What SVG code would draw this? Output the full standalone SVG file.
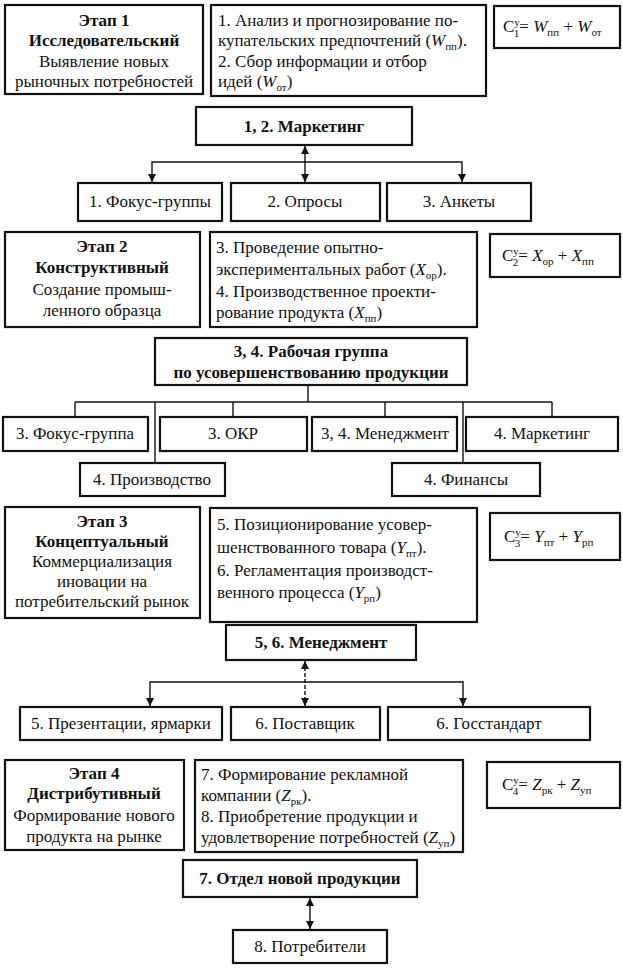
<svg xmlns="http://www.w3.org/2000/svg" width="623" height="969" viewBox="0 0 623 969" font-family="Liberation Serif" font-size="17">
<style>
text{fill:#111}
.b{font-weight:bold}
.c{text-anchor:middle}
.box{fill:#fff;stroke:#111;stroke-width:2.2}
.ln{fill:none;stroke:#111;stroke-width:1.4}
.i{font-style:italic}
.s{font-size:11px}
</style>
<defs>
<marker id="ah" viewBox="0 0 10 10" refX="10" refY="5" markerWidth="8" markerHeight="8" orient="auto-start-reverse" markerUnits="userSpaceOnUse">
<path d="M0,0 L10,5 L0,10 Z" fill="#111"/>
</marker>
</defs>
<rect width="623" height="969" fill="#fff"/>

<g id="connectors">
<line class="ln" x1="305" y1="146" x2="305" y2="182" marker-start="url(#ah)" marker-end="url(#ah)"/>
<polyline class="ln" points="152,182 152,162 462,162 462,182" marker-start="url(#ah)" marker-end="url(#ah)"/>
<line class="ln" x1="308" y1="386" x2="308" y2="402"/>
<line class="ln" x1="75" y1="402" x2="552" y2="402"/>
<line class="ln" x1="75" y1="402" x2="75" y2="417"/>
<line class="ln" x1="233" y1="402" x2="233" y2="417"/>
<line class="ln" x1="385" y1="402" x2="385" y2="417"/>
<line class="ln" x1="552" y1="402" x2="552" y2="417"/>
<line class="ln" x1="155" y1="402" x2="155" y2="463"/>
<line class="ln" x1="463" y1="402" x2="463" y2="463"/>
<line class="ln" x1="305" y1="661" x2="305" y2="706" stroke-dasharray="4 2" marker-start="url(#ah)" marker-end="url(#ah)"/>
<polyline class="ln" points="150,706 150,682 463,682 463,706" marker-start="url(#ah)" marker-end="url(#ah)"/>
<line class="ln" x1="310" y1="898" x2="310" y2="929" marker-start="url(#ah)" marker-end="url(#ah)"/>
</g>

<g id="stage1">
<rect class="box" x="5" y="5" width="198" height="89"/>
<text class="b c" x="104" y="26">Этап 1</text>
<text class="b c" x="104" y="46">Исследовательский</text>
<text class="c" x="104" y="67">Выявление новых</text>
<text class="c" x="104" y="87">рыночных потребностей</text>
</g>
<g id="tasks1">
<rect class="box" x="211" y="5" width="275" height="91"/>
<text x="218" y="26">1. Анализ и прогнозирование по-</text>
<text x="218" y="46">купательских предпочтений (<tspan class="i">W</tspan><tspan class="s" dy="4">пп</tspan><tspan dy="-4">).</tspan></text>
<text x="218" y="67">2. Сбор информации и отбор</text>
<text x="218" y="87">идей (<tspan class="i">W</tspan><tspan class="s" dy="4">от</tspan><tspan dy="-4">)</tspan></text>
</g>
<g id="formula1">
<rect class="box" x="494" y="6" width="126" height="42"/>
<text x="503" y="32">C<tspan class="s" dy="-6">у</tspan><tspan class="s" dx="-6" dy="11">1</tspan><tspan dy="-5">= </tspan><tspan class="i">W</tspan><tspan class="s" dy="4">пп</tspan><tspan dy="-4"> + </tspan><tspan class="i">W</tspan><tspan class="s" dy="4">от</tspan></text>
</g>
<g id="marketing12">
<rect class="box" x="196" y="107" width="216" height="38"/>
<text class="b c" x="304" y="132">1, 2. Маркетинг</text>
</g>
<g id="focus1">
<rect class="box" x="78" y="183" width="144" height="38"/>
<text class="c" x="150" y="207">1. Фокус-группы</text>
</g>
<g id="polls">
<rect class="box" x="231" y="183" width="149" height="38"/>
<text class="c" x="305" y="207">2. Опросы</text>
</g>
<g id="questionnaires">
<rect class="box" x="387" y="183" width="144" height="38"/>
<text class="c" x="459" y="207">3. Анкеты</text>
</g>

<g id="stage2">
<rect class="box" x="5" y="232" width="195" height="95"/>
<text class="b c" x="102" y="252">Этап 2</text>
<text class="b c" x="102" y="273">Конструктивный</text>
<text class="c" x="102" y="295">Создание промыш-</text>
<text class="c" x="102" y="316">ленного образца</text>
</g>
<g id="tasks2">
<rect class="box" x="210" y="232" width="267" height="95"/>
<text x="216" y="253">3. Проведение опытно-</text>
<text x="216" y="275">экспериментальных работ (<tspan class="i">X</tspan><tspan class="s" dy="4">ор</tspan><tspan dy="-4">).</tspan></text>
<text x="216" y="297">4. Производственное проекти-</text>
<text x="216" y="318">рование продукта (<tspan class="i">X</tspan><tspan class="s" dy="4">пп</tspan><tspan dy="-4">)</tspan></text>
</g>
<g id="formula2">
<rect class="box" x="490" y="234" width="130" height="43"/>
<text x="502" y="261">C<tspan class="s" dy="-6">у</tspan><tspan class="s" dx="-6" dy="11">2</tspan><tspan dy="-5">= </tspan><tspan class="i">X</tspan><tspan class="s" dy="4">ор</tspan><tspan dy="-4"> + </tspan><tspan class="i">X</tspan><tspan class="s" dy="4">пп</tspan></text>
</g>
<g id="workgroup">
<rect class="box" x="155" y="338" width="312" height="47"/>
<text class="b c" x="311" y="357">3, 4. Рабочая группа</text>
<text class="b c" x="311" y="378">по усовершенствованию продукции</text>
</g>
<g id="focus2">
<rect class="box" x="3" y="417" width="145" height="34"/>
<text class="c" x="75" y="439">3. Фокус-группа</text>
</g>
<g id="okr">
<rect class="box" x="160" y="417" width="147" height="34"/>
<text class="c" x="233" y="439">3. ОКР</text>
</g>
<g id="management34">
<rect class="box" x="312" y="417" width="145" height="34"/>
<text class="c" x="385" y="439">3, 4. Менеджмент</text>
</g>
<g id="marketing4">
<rect class="box" x="466" y="417" width="152" height="34"/>
<text class="c" x="542" y="439">4. Маркетинг</text>
</g>
<g id="production">
<rect class="box" x="80" y="463" width="145" height="33"/>
<text class="c" x="152" y="485">4. Производство</text>
</g>
<g id="finance">
<rect class="box" x="392" y="463" width="148" height="33"/>
<text class="c" x="466" y="485">4. Финансы</text>
</g>

<g id="stage3">
<rect class="box" x="5" y="507" width="195" height="111"/>
<text class="b c" x="102" y="527">Этап 3</text>
<text class="b c" x="102" y="547">Концептуальный</text>
<text class="c" x="102" y="567">Коммерциализация</text>
<text class="c" x="102" y="587">иновации  на</text>
<text class="c" x="102" y="607">потребительский рынок</text>
</g>
<g id="tasks3">
<rect class="box" x="210" y="508" width="267" height="114"/>
<text x="217" y="530">5. Позиционирование усовер-</text>
<text x="217" y="553">шенствованного товара  (<tspan class="i">Y</tspan><tspan class="s" dy="4">пт</tspan><tspan dy="-4">).</tspan></text>
<text x="217" y="576">6. Регламентация производст-</text>
<text x="217" y="598">венного процесса  (<tspan class="i">Y</tspan><tspan class="s" dy="4">рп</tspan><tspan dy="-4">)</tspan></text>
</g>
<g id="formula3">
<rect class="box" x="490" y="513" width="130" height="47"/>
<text x="504" y="542">C<tspan class="s" dy="-6">у</tspan><tspan class="s" dx="-6" dy="11">3</tspan><tspan dy="-5">= </tspan><tspan class="i">Y</tspan><tspan class="s" dy="4">пт</tspan><tspan dy="-4"> + </tspan><tspan class="i">Y</tspan><tspan class="s" dy="4">рп</tspan></text>
</g>
<g id="management56">
<rect class="box" x="226" y="625" width="190" height="35"/>
<text class="b c" x="321" y="648">5, 6. Менеджмент</text>
</g>
<g id="fairs">
<rect class="box" x="20" y="707" width="202" height="33"/>
<text class="c" x="121" y="729">5. Презентации,  ярмарки</text>
</g>
<g id="supplier">
<rect class="box" x="231" y="707" width="149" height="33"/>
<text class="c" x="305" y="729">6. Поставщик</text>
</g>
<g id="gosstandart">
<rect class="box" x="388" y="707" width="202" height="33"/>
<text class="c" x="489" y="729">6. Госстандарт</text>
</g>

<g id="stage4">
<rect class="box" x="5" y="760" width="179" height="90"/>
<text class="b c" x="94" y="779">Этап 4</text>
<text class="b c" x="94" y="799">Дистрибутивный</text>
<text class="c" x="94" y="821">Формирование нового</text>
<text class="c" x="94" y="842">продукта на рынке</text>
</g>
<g id="tasks4">
<rect class="box" x="195" y="760" width="268" height="92"/>
<text x="201" y="780">7. Формирование рекламной</text>
<text x="201" y="801">компании (<tspan class="i">Z</tspan><tspan class="s" dy="4">рк</tspan><tspan dy="-4">).</tspan></text>
<text x="201" y="822">8. Приобретение продукции и</text>
<text x="201" y="843">удовлетворение потребностей (<tspan class="i">Z</tspan><tspan class="s" dy="4">уп</tspan><tspan dy="-4">)</tspan></text>
</g>
<g id="formula4">
<rect class="box" x="487" y="762" width="133" height="46"/>
<text x="502" y="790">C<tspan class="s" dy="-6">у</tspan><tspan class="s" dx="-6" dy="11">4</tspan><tspan dy="-5">= </tspan><tspan class="i">Z</tspan><tspan class="s" dy="4">рк</tspan><tspan dy="-4"> + </tspan><tspan class="i">Z</tspan><tspan class="s" dy="4">уп</tspan></text>
</g>
<g id="newproducts">
<rect class="box" x="183" y="860" width="234" height="37"/>
<text class="b c" x="300" y="884">7. Отдел новой продукции</text>
</g>
<g id="consumers">
<rect class="box" x="233" y="930" width="154" height="33"/>
<text class="c" x="310" y="952">8. Потребители</text>
</g>
</svg>
